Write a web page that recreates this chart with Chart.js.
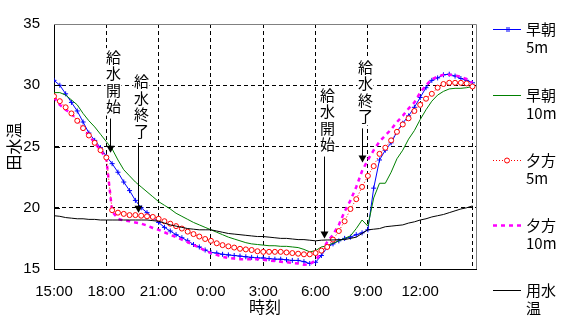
<!DOCTYPE html>
<html>
<head>
<meta charset="utf-8">
<script src="https://cdn.jsdelivr.net/npm/chart.js@4"></script>
<style>
  body { margin: 0; background: #fff; }
  canvas { display: block; }
</style>
</head>
<body>
<canvas id="tempChart" width="566" height="322"></canvas>
<script>
// measured every 20 minutes, 15:00 -> 15:00 next day
const times = [
  '15:00','15:20','15:40','16:00','16:20','16:40','17:00','17:20','17:40',
  '18:00','18:20','18:40','19:00','19:20','19:40','20:00','20:20','20:40',
  '21:00','21:20','21:40','22:00','22:20','22:40','23:00','23:20','23:40',
  '0:00','0:20','0:40','1:00','1:20','1:40','2:00','2:20','2:40',
  '3:00','3:20','3:40','4:00','4:20','4:40','5:00','5:20','5:40',
  '6:00','6:20','6:40','7:00','7:20','7:40','8:00','8:20','8:40',
  '9:00','9:20','9:40','10:00','10:20','10:40','11:00','11:20','11:40',
  '12:00','12:20','12:40','13:00','13:20','13:40','14:00','14:20','14:40',
  '15:00'
];

// 早朝 5m
const morning5 = [
  30.4, 30.0, 29.3, 28.6, 27.9, 27.0, 26.1, 25.5, 24.9, 24.2,
  23.6, 22.9, 22.1, 21.4, 20.6, 20.0, 19.6, 19.2, 18.8, 18.4,
  18.1, 17.8, 17.55, 17.3, 17.0, 16.8, 16.55, 16.35, 16.3, 16.2,
  16.15, 16.1, 16.05, 16.0, 15.95, 15.9, 15.9, 15.85, 15.8, 15.8,
  15.75, 15.7, 15.7, 15.6, 15.45, 15.55, 16.1, 16.75, 17.05, 17.3,
  17.5, 17.6, 17.8, 17.95, 18.2, 21.6, 23.9, 24.7, 25.3, 26.2,
  26.9, 27.5, 28.2, 29.0, 29.8, 30.4, 30.6, 30.85, 30.9, 30.75,
  30.55, 30.4, 30.2
];
// 早朝 10m
const morning10 = [
  29.4, 29.4, 29.2, 28.8, 28.4, 27.7, 27.1, 26.6, 26.0, 25.4,
  24.8, 23.9, 23.1, 22.6, 22.1, 21.7, 21.3, 20.9, 20.5, 20.2,
  19.9, 19.55, 19.3, 19.05, 18.8, 18.6, 18.4, 18.2, 18.0, 17.8,
  17.6, 17.45, 17.3, 17.15, 17.05, 17.0, 16.95, 16.9, 16.9, 16.85,
  16.85, 16.8, 16.75, 16.6, 16.4, 16.5, 16.8, 16.9, 17.1, 17.3,
  17.5, 17.7, 18.3, 19.0, 18.5, 20.8, 22.0, 22.0, 22.9, 24.0,
  24.7, 25.6, 26.3, 27.2, 28.0, 28.7, 29.2, 29.5, 29.7, 29.75,
  29.75, 29.8, 29.9
];
// 夕方 5m
const evening5 = [
  29.1, 28.7, 28.2, 27.7, 27.1, 26.5, 25.9, 25.3, 24.7, 24.1,
  19.8, 19.6, 19.5, 19.4, 19.4, 19.35, 19.3, 19.25, 19.1, 18.9,
  18.7, 18.5, 18.3, 18.05, 17.85, 17.65, 17.45, 17.3, 17.1, 16.95,
  16.85, 16.75, 16.65, 16.6, 16.55, 16.45, 16.4, 16.4, 16.4, 16.4,
  16.35, 16.3, 16.25, 16.2, 16.2, 16.3, 16.5, 16.8, 17.4, 18.1,
  18.9, 19.9, 20.7, 21.7, 22.6, 23.4, 24.4, 24.9, 25.5, 26.2,
  26.8, 27.3, 27.9, 28.4, 28.9, 29.3, 29.8, 30.1, 30.2, 30.2,
  30.2, 30.15, 29.9
];
// 夕方 10m
const evening10 = [
  29.0, 28.4, 28.0, 27.7, 27.1, 26.5, 25.9, 25.3, 24.7, 24.0,
  19.7, 19.1, 18.95, 18.9, 18.8, 18.7, 18.55, 18.35, 18.2, 18.0,
  17.8, 17.6, 17.4, 17.2, 16.95, 16.75, 16.5, 16.3, 16.15, 16.0,
  15.9, 15.85, 15.8, 15.8, 15.8, 15.8, 15.75, 15.7, 15.65, 15.6,
  15.55, 15.5, 15.45, 15.35, 15.4, 15.7, 16.4, 17.2, 17.8, 18.6,
  19.7, 20.6, 21.7, 23.0, 23.9, 24.7, 25.4, 25.9, 26.4, 27.0,
  27.5, 28.1, 28.6, 29.4, 30.0, 30.5, 30.7, 30.85, 30.85, 30.8,
  30.7, 30.5, 30.2
];
// 用水温
const canal = [
  19.35, 19.3, 19.2, 19.15, 19.1, 19.1, 19.05, 19.05, 19.0, 19.0,
  19.0, 19.0, 19.0, 19.0, 19.0, 19.0, 19.0, 18.95, 18.9, 18.75,
  18.6, 18.5, 18.4, 18.3, 18.25, 18.2, 18.2, 18.2, 18.1, 18.0,
  17.9, 17.85, 17.8, 17.75, 17.7, 17.65, 17.65, 17.6, 17.55, 17.5,
  17.5, 17.45, 17.4, 17.4, 17.35, 17.3, 17.35, 17.37, 17.37, 17.4,
  17.4, 17.5, 17.6, 17.9, 18.2, 18.25, 18.3, 18.45, 18.5, 18.55,
  18.6, 18.75, 18.85, 19.0, 19.1, 19.25, 19.35, 19.45, 19.6, 19.75,
  19.9, 20.0, 20.15
];

const seriesNames = [['早朝', '5m'], ['早朝', '10m'], ['夕方', '5m'], ['夕方', '10m'], ['用水', '温']];
const xTickLabels = ['15:00', '18:00', '21:00', '0:00', '3:00', '6:00', '9:00', '12:00'];
const yTicks = [15, 20, 25, 30, 35];

// 給水 annotations: arrow time, value at arrow tip, value at first character
const notes = ['給水開始', '給水終了', '給水開始', '給水終了'];
const noteTimes = ['18:11', '19:50', '6:28', '8:41'];
const noteTips = [24.5, 19.6, 17.5, 23.7];
const noteTops = [32.3, 30.3, 29.2, 31.5];

// hours after 15:00
function toHours(list) {
  let prev = -1;
  return list.map(s => {
    const [hh, mm] = s.split(':').map(Number);
    let h = (((hh * 60 + mm - 900) % 1440) + 1440) % 1440 / 60;
    if (h < prev) h += 24;
    prev = h;
    return h;
  });
}
const hours = toHours(times);
const noteHours = noteTimes.map(s => toHours([s])[0]);
const pts = vals => vals.map((v, i) => ({ x: hours[i], y: v }));

const cjk = '"Noto Sans CJK JP", sans-serif';

const extras = {
  id: 'extras',
  beforeDraw(chart) {
    const ctx = chart.ctx;
    ctx.save();
    ctx.fillStyle = '#fff';
    ctx.fillRect(0, 0, chart.width, chart.height);
    ctx.restore();
  },
  afterDatasetsDraw(chart) {
    const { ctx, chartArea: a, scales: { x, y } } = chart;
    ctx.save();
    // plot frame, top and right
    ctx.strokeStyle = '#808080';
    ctx.lineWidth = 1;
    ctx.beginPath();
    ctx.moveTo(a.left, a.top + 0.5);
    ctx.lineTo(Math.round(a.right) + 0.5, a.top + 0.5);
    ctx.lineTo(Math.round(a.right) + 0.5, a.bottom);
    ctx.stroke();
    // short inward tick marks on the value axis
    ctx.strokeStyle = '#000';
    yTicks.slice(1, -1).forEach(v => {
      const py = Math.round(y.getPixelForValue(v)) + 0.5;
      ctx.beginPath();
      ctx.moveTo(a.left, py);
      ctx.lineTo(a.left + 6, py);
      ctx.stroke();
    });
    // arrows with vertical text
    ctx.font = '15px ' + cjk;
    ctx.textAlign = 'center';
    ctx.textBaseline = 'middle';
    notes.forEach((txt, i) => {
      const ax = Math.round(x.getPixelForValue(noteHours[i])) + 0.5;
      const tip = y.getPixelForValue(noteTips[i]);
      const top = y.getPixelForValue(noteTops[i]);
      const tx = ax + 3;
      const chars = [...txt];
      const step = 16.5;
      ctx.fillStyle = '#fff';
      ctx.fillRect(tx - 8, top - 9, 16, (chars.length - 1) * step + 18);
      ctx.fillStyle = '#000';
      chars.forEach((c, j) => ctx.fillText(c, tx, top + j * step));
      const lineTop = top + (chars.length - 1) * step + 12;
      ctx.beginPath();
      ctx.moveTo(ax, lineTop);
      ctx.lineTo(ax, tip - 6);
      ctx.stroke();
      ctx.beginPath();
      ctx.moveTo(ax - 4, tip - 7);
      ctx.lineTo(ax + 4, tip - 7);
      ctx.lineTo(ax, tip);
      ctx.closePath();
      ctx.fill();
    });
    ctx.restore();
  },
  afterDraw(chart) {
    const ctx = chart.ctx;
    const rowY = [29, 95, 160, 225, 290];
    ctx.save();
    chart.data.datasets.forEach((ds, i) => {
      const ly = rowY[i] + 0.5;
      ctx.strokeStyle = ds.borderColor;
      ctx.lineWidth = ds.borderWidth;
      ctx.setLineDash(ds.borderDash || []);
      ctx.beginPath();
      ctx.moveTo(493, ly);
      ctx.lineTo(521, ly);
      ctx.stroke();
      ctx.setLineDash([]);
      ctx.lineWidth = 1;
      if (ds.pointStyle === 'circle' && ds.pointRadius) {
        ctx.fillStyle = '#fff';
        ctx.beginPath();
        ctx.arc(507, ly, ds.pointRadius, 0, Math.PI * 2);
        ctx.fill();
        ctx.stroke();
      } else if (ds.pointStyle === 'cross' && ds.pointRadius) {
        ctx.beginPath();
        ctx.moveTo(507, ly - 2.5);
        ctx.lineTo(507, ly + 2.5);
        ctx.moveTo(509, ly - 2.5);
        ctx.lineTo(509, ly + 2.5);
        ctx.stroke();
      }
      ctx.fillStyle = '#000';
      ctx.font = '15px ' + cjk;
      ctx.textAlign = 'left';
      ctx.textBaseline = 'middle';
      ctx.fillText(seriesNames[i][0], 526, rowY[i]);
      ctx.fillText(seriesNames[i][1], 526, rowY[i] + 18);
    });
    ctx.restore();
  }
};

new Chart(document.getElementById('tempChart'), {
  type: 'line',
  data: {
    datasets: [
      {
        label: seriesNames[0].join(''),
        data: pts(morning5),
        borderColor: '#0000ff',
        borderWidth: 1,
        pointStyle: 'cross',
        pointRadius: 2.5,
        pointBorderColor: '#0000ff',
        pointBorderWidth: 1,
        order: 5,
      },
      {
        label: seriesNames[1].join(''),
        data: pts(morning10),
        borderColor: '#008000',
        borderWidth: 1,
        pointRadius: 0,
        order: 4,
      },
      {
        label: seriesNames[2].join(''),
        data: pts(evening5),
        borderColor: '#ff0000',
        borderWidth: 1,
        borderDash: [1, 2],
        pointStyle: 'circle',
        pointRadius: 2.5,
        pointBorderColor: '#ff0000',
        pointBackgroundColor: '#ffffff',
        pointBorderWidth: 1,
        order: 2,
      },
      {
        label: seriesNames[3].join(''),
        data: pts(evening10),
        borderColor: '#ff00ff',
        borderWidth: 2.5,
        borderDash: [4, 4],
        pointRadius: 0,
        order: 3,
      },
      {
        label: seriesNames[4].join(''),
        data: pts(canal),
        borderColor: '#000000',
        borderWidth: 1,
        pointRadius: 0,
        order: 1,
      },
    ],
  },
  options: {
    responsive: false,
    animation: false,
    devicePixelRatio: 1,
    layout: { padding: { left: 0, right: 90, top: 24, bottom: 0 } },
    plugins: {
      legend: { display: false },
      tooltip: { enabled: false },
    },
    elements: { line: { tension: 0 } },
    scales: {
      x: {
        type: 'linear',
        min: 0,
        max: 24.2,
        afterFit: scale => { scale.height = 53; },
        grid: {
          drawTicks: false,
          color: c => (c.tick && c.tick.value === 0) ? 'rgba(0,0,0,0)' : '#000',
        },
        border: { color: '#000', dash: [4, 3] },
        ticks: {
          stepSize: 3,
          includeBounds: false,
          autoSkip: false,
          maxRotation: 0,
          padding: 14,
          color: '#000',
          font: { family: 'Liberation Sans', size: 15 },
          callback: v => xTickLabels[Math.round(v / 3)] || '',
        },
        title: {
          display: true,
          text: '時刻',
          color: '#000',
          font: { family: cjk, size: 16 },
          padding: { top: 0, bottom: 5 },
        },
      },
      y: {
        min: yTicks[0],
        max: yTicks[yTicks.length - 1],
        afterFit: scale => { scale.width = 54; },
        grid: {
          drawTicks: false,
          color: c => (c.tick && (c.tick.value === yTicks[0] || c.tick.value === yTicks[yTicks.length - 1])) ? 'rgba(0,0,0,0)' : '#000',
        },
        border: { color: '#000', dash: [4, 3] },
        ticks: {
          stepSize: 5,
          padding: 14,
          color: '#000',
          font: { family: 'Liberation Sans', size: 15 },
        },
        title: {
          display: true,
          text: '田水温',
          color: '#000',
          font: { family: cjk, size: 16 },
          padding: { top: 4, bottom: 0 },
        },
      },
    },
  },
  plugins: [extras],
});
</script>
</body>
</html>
